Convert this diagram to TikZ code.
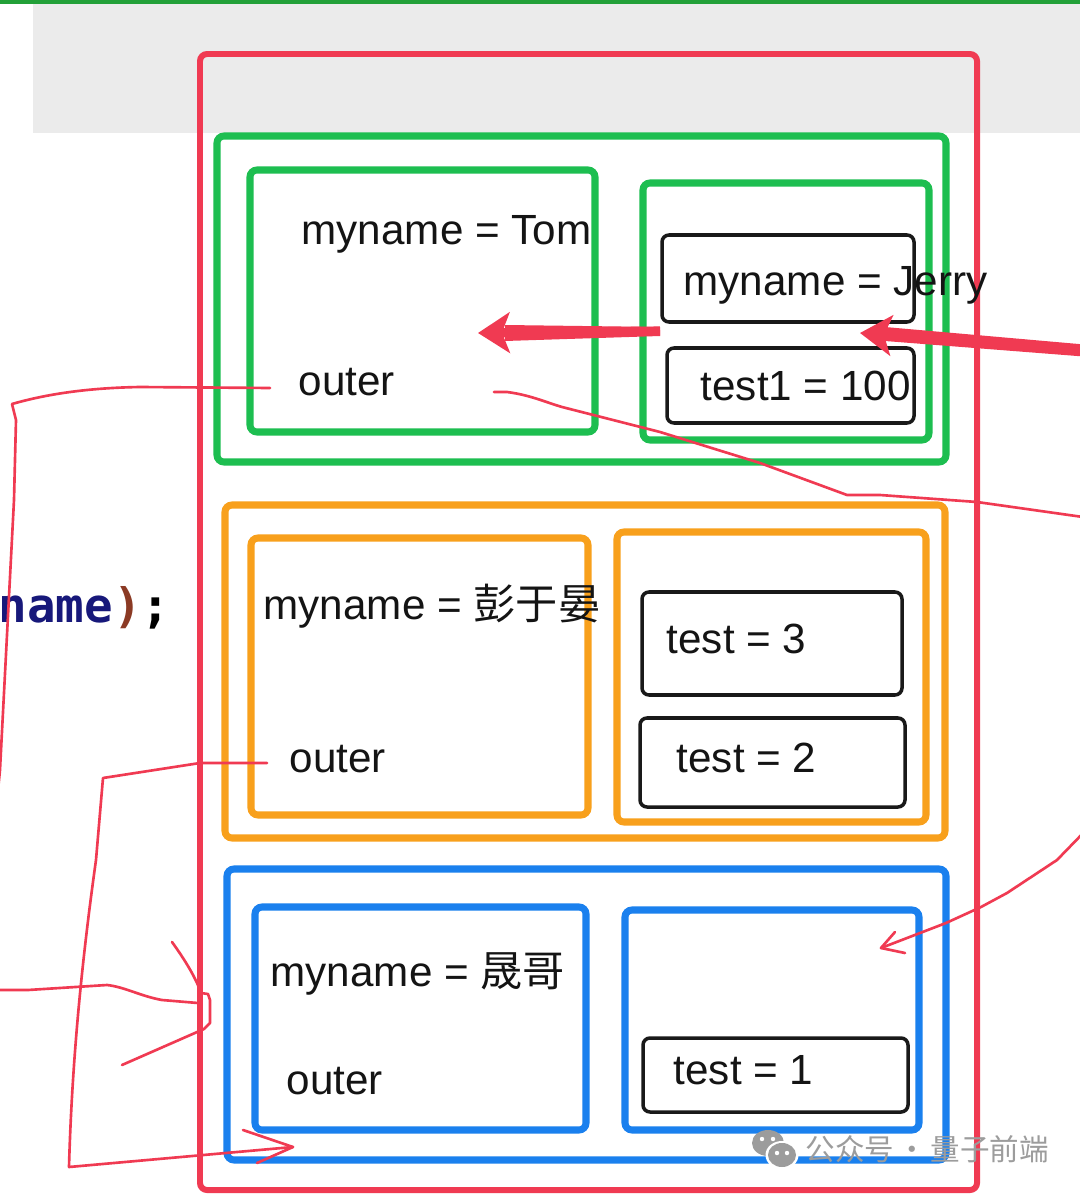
\documentclass[tikz,border=0pt]{standalone}
\usepackage{fontspec}
\setmainfont{Liberation Sans}
\newfontfamily\cjk{Noto Sans CJK SC}
\newfontfamily\codefont{DejaVu Sans Mono}
\usetikzlibrary{arrows.meta}

\definecolor{hred}{HTML}{F03A52}
\definecolor{cgreen}{HTML}{1DBE50}
\definecolor{corange}{HTML}{F8A01C}
\definecolor{cblue}{HTML}{1A80EE}
\definecolor{bandgrey}{HTML}{EBEBEB}
\definecolor{topgreen}{HTML}{22A038}
\definecolor{codeblue}{HTML}{17187A}
\definecolor{codebrown}{HTML}{8B3A24}
\definecolor{wmgrey}{HTML}{9C9C9C}

\begin{document}
\begin{tikzpicture}[x=0.01cm, y=-0.01cm,
  frame/.style={line width=2pt, rounded corners=2pt},
  valbox/.style={draw=black!90, line width=1pt, rounded corners=2pt},
  lbl/.style={anchor=base west, inner sep=0pt, text=black!92,
              font=\fontsize{12}{14}\selectfont},
  hand/.style={draw=hred, line width=0.75pt, line cap=round, line join=round},
  fat/.style={draw=hred, line width=2.6pt,
              -{Stealth[length=9pt, width=11.5pt, inset=2.2pt]}},
]
\useasboundingbox (0,0) rectangle (1080,1194);
\clip (0,0) rectangle (1080,1194);

%% ---- Screenshot background ----
\fill[white] (0,0) rectangle (1080,1194);
\fill[bandgrey] (33,4) rectangle (1080,133);
\fill[topgreen] (0,0) rectangle (1080,4);

%% ---- Outer scope ----
\draw[hred, line width=1.7pt, rounded corners=2pt] (200,54) rectangle (977,1190);

%% ---- Green scope (top) ----
\draw[frame, cgreen] (217,136) rectangle (946,462);
\draw[frame, cgreen] (250,170) rectangle (595,432);
\draw[frame, cgreen] (643,183) rectangle (929,440);
\draw[valbox] (662,235) rectangle (914,322);
\draw[valbox] (667,348) rectangle (914,423);

\node[lbl] (tom)    at (301,245) {myname = Tom};
\node[lbl] (outerG) at (298,395) {outer};
\node[lbl] (jerry)  at (683,295) {myname = Jerry};
\node[lbl] (testA)  at (700,400) {test1 = 100};

%% ---- Orange scope (middle) ----
\draw[frame, corange] (225,505) rectangle (945,838);
\draw[frame, corange] (251,538) rectangle (588,815);
\draw[frame, corange] (617,532) rectangle (926,822);
\draw[valbox] (642,592) rectangle (902,695);
\draw[valbox] (640,718) rectangle (905,807);

\node[lbl] (peng)   at (263,619) {myname = {\cjk 彭于晏}};
\node[lbl] (outerO) at (289,772) {outer};
\node[lbl] (testC)  at (666,653) {test = 3};
\node[lbl] (testB)  at (676,772) {test = 2};

%% ---- Blue scope (bottom) ----
\draw[frame, cblue] (227,869) rectangle (946,1160);
\draw[frame, cblue] (255,907) rectangle (586,1130);
\draw[frame, cblue] (625,910) rectangle (919,1130);
\draw[valbox] (643,1038) rectangle (908,1112);

\node[lbl] (sheng)  at (270,986)  {myname = {\cjk 晟哥}};
\node[lbl] (outerB) at (286,1094) {outer};
\node[lbl] (testD)  at (673,1084) {test = 1};

%% ---- Code fragment at the left ----
\node[anchor=base west, inner sep=0pt,
      font=\codefont\bfseries\fontsize{13.5}{16}\selectfont] (code) at (-2,622)
  {\textcolor{codeblue}{name}\textcolor{codebrown}{)};};

%% ---- Fat arrows ----
\coordinate (jTail) at (660,331);
\coordinate (tTip)  at (478,333);
\coordinate (eTail) at (1090,351);
\coordinate (jTip)  at (860,333);
\fill[hred] (660,327) -- (505,325) -- (505,341) -- (660,336) -- cycle;
\draw[fat] (jTail) -- (tTip);
\fill[hred] (1090,345) -- (885,327) -- (885,341) -- (1090,357) -- cycle;
\draw[fat] (eTail) -- (jTip);

%% ---- Hand strokes ----
\coordinate (gOut)  at (270,388);
\coordinate (gOutR) at (494,392);
\coordinate (oOut)  at (267,763);
\coordinate (bTip)  at (293,1147);
\coordinate (rTip)  at (881,948);

\draw[hand] (gOut) -- (140,387) .. controls (80,388) and (40,396) .. (12,404)
  -- (16,420) -- (14,500) -- (0,770) -- (-3,800);
\draw[hand] (gOutR) -- (507,392) .. controls (530,395) and (545,402) .. (562,407)
  -- (660,432) -- (760,463) -- (847,495) -- (880,495) -- (977,502) -- (1090,518);

\draw[hand] (oOut) -- (200,763) -- (103,778) -- (96,860)
  .. controls (82,960) and (72,1060) .. (69,1167) -- (bTip);
\draw[hand] (243,1130) -- (bTip) -- (257,1163);

\draw[hand] (-5,990) -- (28,990) -- (107,985)
  .. controls (125,987) and (140,996) .. (162,1000) -- (198,1003);
\draw[hand] (172,942) .. controls (185,960) and (196,978) .. (201,993)
  -- (208,994) -- (210,1000) -- (210,1023) -- (204,1029) -- (122,1065);

\draw[hand] (1090,826) -- (1057,860) -- (1007,893) -- (981,907) -- (946,923) -- (rTip);
\draw[hand] (895,932) -- (rTip) -- (905,953);

%% ---- Watermark ----
\fill[wmgrey] (768,1143) ellipse [x radius=0.16cm, y radius=0.13cm];
\fill[white] (782,1155) ellipse [x radius=0.165cm, y radius=0.14cm];
\fill[wmgrey] (782,1155) ellipse [x radius=0.14cm, y radius=0.12cm];
\foreach \ex/\ey in {762/1139, 773/1139, 777/1153, 787/1153}
  \fill[white] (\ex,\ey) circle [radius=0.022cm];
\node[anchor=west, inner sep=0pt, text=wmgrey,
      font=\cjk\fontsize{8.4}{10}\selectfont] (wm) at (805,1149)
  {公众号\hspace{0.035cm}·\hspace{0.035cm}量子前端};

\end{tikzpicture}
\end{document}
